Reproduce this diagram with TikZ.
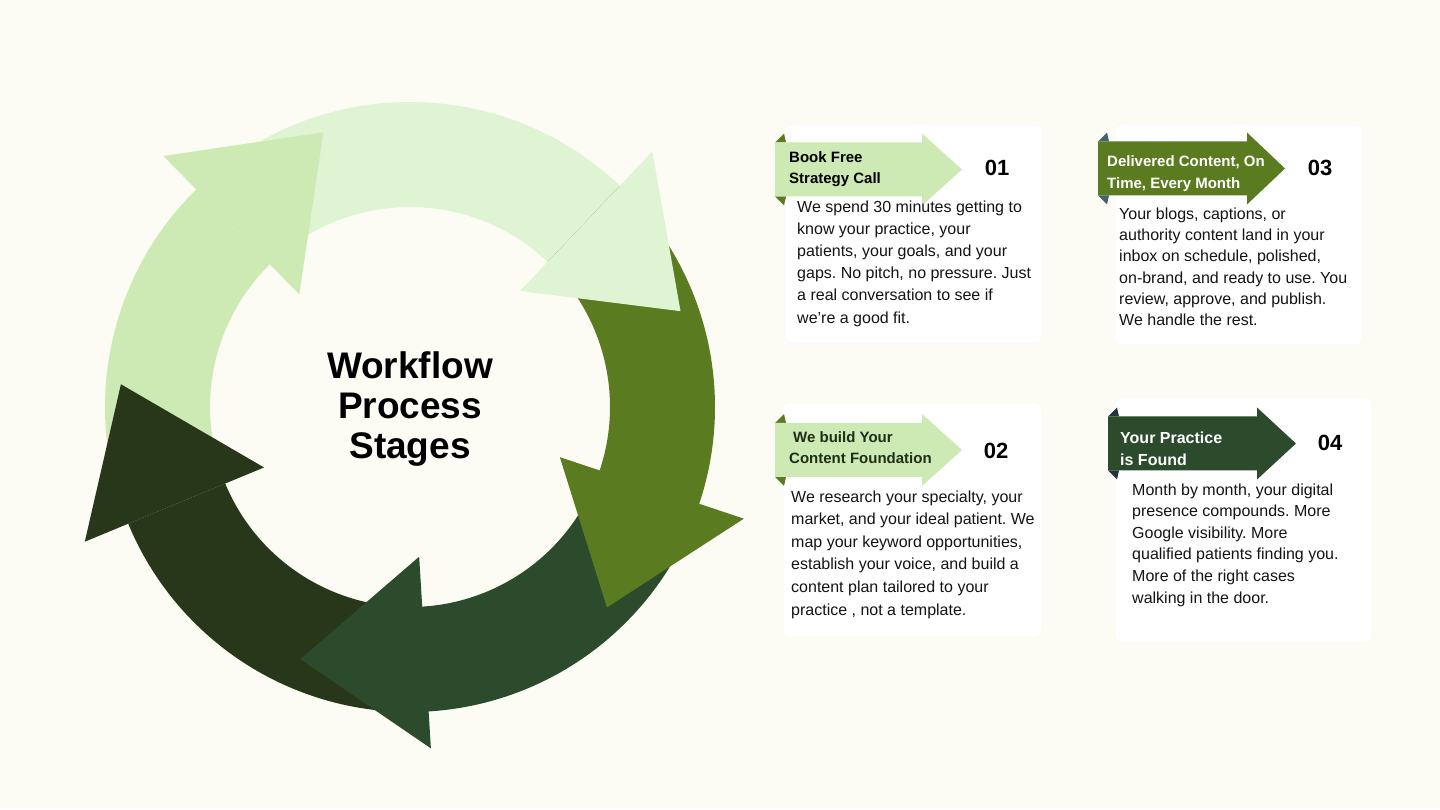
\documentclass[tikz,border=0pt]{standalone}
\usepackage{fontspec}
\setmainfont{Liberation Sans}
\frenchspacing

\definecolor{bgcream}{HTML}{FCFCF5}
\definecolor{ringA}{HTML}{CDEAB5}
\definecolor{ringB}{HTML}{DFF4D2}
\definecolor{ringC}{HTML}{5B7B21}
\definecolor{ringD}{HTML}{2C4B2C}
\definecolor{ringE}{HTML}{283719}
\definecolor{foldB}{HTML}{46606F}
\definecolor{foldC}{HTML}{23343F}
\definecolor{ink}{HTML}{141414}
\definecolor{tagink}{HTML}{1E2E16}

\begin{document}
\begin{tikzpicture}[
  x=1pt,y=1pt,
  card/.style={fill=white,draw=black!4,rounded corners=6pt},
  body/.style={anchor=north west,inner sep=0pt,align=left,text=ink},
  tag/.style={anchor=north west,inner sep=0pt,align=left,font=\bfseries\fontsize{15}{21}\selectfont},
  num/.style={inner sep=0pt,text=black,font=\bfseries\fontsize{22}{22}\selectfont},
  title/.style={align=center,inner sep=0pt,font=\bfseries\fontsize{37}{40}\selectfont}
]
\fill[bgcream] (0,0) rectangle (1440,809);
\useasboundingbox (0,0) rectangle (1440,809);
% ---------- cycle of five arrows ----------
\begin{scope}[shift={(410,402)}]
\foreach \s/\e/\c in {202.5/134.5/ringA,134.5/46.5/ringB,46.5/-18.5/ringC,-18.5/-87/ringD,-87/-157.5/ringE}
  \fill[\c] (\s:305pt) arc[start angle=\s,end angle=\e,radius=305pt] -- (\e:200pt)
    arc[start angle=\e,end angle=\s,radius=200pt] -- cycle;
\foreach \b/\ri/\ro/\rt/\c in {134.5/158/352/288/ringA,46.5/160/352/287/ringB,-18.5/158/352/281/ringC,
    -86.5/150/342/275/ringD,-157.5/158/352/290/ringE}
  \fill[\c] (\b:\ri pt) -- (\b:\ro pt) -- ({\b-27}:\rt pt) -- cycle;
\end{scope}
\node[title] (ttl) at (410,400) {Workflow\\Process\\Stages};
% ---------- cards ----------
\fill[card] (785,466) rectangle (1042,684);
\fill[card] (1115,464) rectangle (1362,684);
\fill[card] (783,172) rectangle (1042,406);
\fill[card] (1115,167) rectangle (1372,411);
% ---------- banners ----------
\foreach \L/\c/\B/\T/\col/\fold in {775/639.5/922/962/ringA/ringC,775/359/922/962/ringA/ringC,
    1098/640.5/1247/1285/ringC/foldB,1108/365.5/1257/1296/ringD/foldC}{
  \fill[\fold] (\L,{\c+27}) -- ({\L+9},{\c+36}) -- ({\L+11},{\c+27}) -- cycle;
  \fill[\fold] (\L,{\c-27}) -- ({\L+9},{\c-36}) -- ({\L+11},{\c-27}) -- cycle;
  \fill[\col] (\L,{\c-27}) -- (\L,{\c+27}) -- (\B,{\c+27}) -- (\B,{\c+36}) -- (\T,\c)
    -- (\B,{\c-36}) -- (\B,{\c-27}) -- cycle;
}
\node[tag,text=black] (tag1) at (789,657.9) {Book Free\\Strategy Call};
\node[tag,text=tagink] (tag2) at (789,377.9) {\hspace*{4pt}We build Your\\Content Foundation};
\node[tag,text=white,font=\bfseries\fontsize{15}{22}\selectfont] (tag3) at (1107,653.9) {Delivered Content, On\\Time, Every Month};
\node[tag,text=white,font=\bfseries\fontsize{16}{22}\selectfont] (tag4) at (1120,377.6) {Your Practice\\is Found};
\node[num] (n1) at (997,641) {01};
\node[num] (n2) at (996,358) {02};
\node[num] (n3) at (1320,641) {03};
\node[num] (n4) at (1330,366) {04};
% ---------- card texts ----------
\node[body,font=\fontsize{16}{22.2}\selectfont] (b1) at (797,608.6)
  {We spend 30 minutes getting to\\know your practice, your\\patients, your goals, and your\\gaps. No pitch, no pressure. Just\\a real conversation to see if\\we're a good fit.};
\node[body,font=\fontsize{16}{21.3}\selectfont] (b3) at (1119,601.6)
  {Your blogs, captions, or\\authority content land in your\\inbox on schedule, polished,\\on-brand, and ready to use. You\\review, approve, and publish.\\We handle the rest.};
\node[body,font=\fontsize{16}{22.6}\selectfont] (b2) at (791,318.6)
  {We research your specialty, your\\market, and your ideal patient. We\\map your keyword opportunities,\\establish your voice, and build a\\content plan tailored to your\\practice , not a template.};
\node[body,font=\fontsize{16}{21.6}\selectfont] (b4) at (1132,325.6)
  {Month by month, your digital\\presence compounds. More\\Google visibility. More\\qualified patients finding you.\\More of the right cases\\walking in the door.};
\end{tikzpicture}
\end{document}
